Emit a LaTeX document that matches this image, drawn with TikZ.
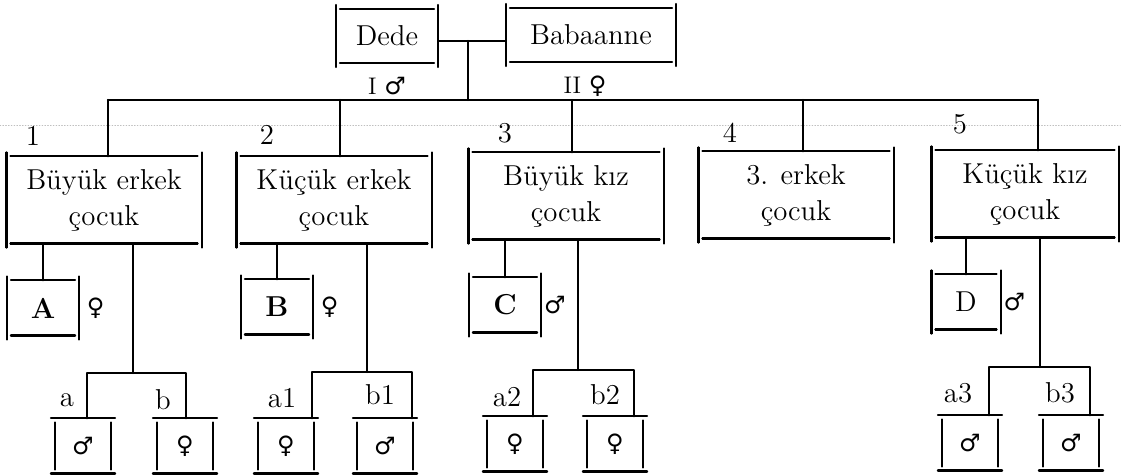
\documentclass[tikz,border=0pt]{standalone}
\usepackage{fontspec}
\newfontfamily\simge{DejaVu Sans}
\newcommand\erkek{{\simge ♂}}
\newcommand\kadin{{\simge ♀}}
% kutu: ust ve alt cizgi ayri, yan cizgiler biraz uzun
\newcommand\kutu[2][1]{%
  \draw ([xshift={2pt*(#1)}]#2.north west) -- ([xshift={-2pt*(#1)}]#2.north east);
  \draw ([xshift={2pt*(#1)}]#2.south west) -- ([xshift={-2pt*(#1)}]#2.south east);
  \draw ([yshift={2pt*(#1)}]#2.north west) -- ([yshift={-2pt*(#1)}]#2.south west);
  \draw ([yshift={2pt*(#1)}]#2.north east) -- ([yshift={-2pt*(#1)}]#2.south east);}
\begin{document}
\begin{tikzpicture}[x=0.5pt, y=-0.5pt, line width=1.1pt, line join=round, line cap=round,
  yazi/.style={font=\Large, inner sep=0pt},
  ebeveyn/.style={minimum width=50pt, minimum height=26pt, inner sep=0pt, font=\Large},
  cocuk/.style={minimum width=96.5pt, minimum height=42.5pt, inner sep=0pt, align=center, font=\Large},
  es/.style={minimum width=35pt, minimum height=26.5pt, inner sep=0pt, font=\Large},
  torun/.style={minimum width=27pt, minimum height=26.5pt, inner sep=0pt, font=\large}]
\useasboundingbox (0,0) rectangle (1121,475);

\draw[densely dotted, line width=0.4pt, gray!50] (0,125) -- (1121,125);

% dede ve babaanne
\node[ebeveyn, label={[font=\large, label distance=3pt]below:I \erkek}] (dede) at (387,36) {Dede};
\node[ebeveyn, minimum width=84pt, label={[font=\large, label distance=3pt, xshift=-3pt]below:II \kadin}] (baba) at (591,35) {Babaanne};

% cocuklar
\node[yazi] (n1) at (33,136) {1};
\node[yazi] (n2) at (267,135) {2};
\node[yazi] (n3) at (505,133) {3};
\node[yazi] (n4) at (730,133) {4};
\node[yazi] (n5) at (960,124) {5};

\node[cocuk] (k1) at (104,200) {Büyük erkek\\çocuk};
\node[cocuk] (k2) at (334,200) {Küçük erkek\\çocuk};
\node[cocuk] (k3) at (566,196) {Büyük kız\\çocuk};
\node[cocuk] (k4) at (796,195) {3. erkek\\çocuk};
\node[cocuk, minimum width=92.5pt] (k5) at (1025,194) {Küçük kız\\çocuk};

% esler
\node[es, font=\Large\bfseries, label={[font=\large]right:\kadin}] (A) at (43,308) {A};
\node[es, font=\Large\bfseries, label={[font=\large]right:\kadin}] (B) at (277,307) {B};
\node[es, font=\Large\bfseries, label={[font=\large, inner sep=1pt]right:\erkek}] (C) at (505,305) {C};
\node[es, minimum width=33.5pt, label={[font=\large, inner sep=1pt]right:\erkek}] (D) at (966,302) {D};

% torunlar
\node[yazi] (la) at (67,400) {a};
\node[yazi] (lb) at (163,400) {b};
\node[yazi] (la1) at (282,398) {a1};
\node[yazi] (lb1) at (380,395) {b1};
\node[yazi] (la2) at (507,397) {a2};
\node[yazi] (lb2) at (605,395) {b2};
\node[yazi] (la3) at (958,393) {a3};
\node[yazi] (lb3) at (1060,393) {b3};

\node[torun] (a) at (83,446) {\erkek};
\node[torun] (b) at (185,446) {\kadin};
\node[torun] (a1) at (286,446) {\kadin};
\node[torun] (b1) at (385,446) {\erkek};
\node[torun] (a2) at (515,444) {\kadin};
\node[torun] (b2) at (615,444) {\kadin};
\node[torun] (a3) at (970,443) {\erkek};
\node[torun] (b3) at (1071,443) {\erkek};

\foreach \n in {dede,baba,k1,k2,k3,k4,k5,A,B,C,D} \kutu{\n};
\foreach \n in {a,b,a1,b1,a2,b2,a3,b3} \kutu[-1]{\n};

% baglantilar
\coordinate (evl) at (468,41);
\coordinate (d1) at (108,100);
\coordinate (d2) at (340,100);
\coordinate (d3) at (572,100);
\coordinate (d4) at (803,100);
\coordinate (d5) at (1038,100);
\draw (evl -| dede.east) -- (evl -| baba.west);
\draw (evl) -- (evl |- d1);
\draw (d1) -- (d5);
\foreach \i in {1,...,5} \draw (d\i) -- (d\i |- k\i.north);

\draw (A.north) -- (A.north |- k1.south);
\draw (B.north) -- (B.north |- k2.south);
\draw (C.north) -- (C.north |- k3.south);
\draw (D.north) -- (D.north |- k5.south);

\coordinate (u1) at (133,373);
\coordinate (ya) at (87,373);
\coordinate (yb) at (186,373);
\coordinate (u2) at (367,372);
\coordinate (ya1) at (312,372);
\coordinate (yb1) at (412,372);
\coordinate (u3) at (578,370);
\coordinate (ya2) at (533,370);
\coordinate (yb2) at (634,370);
\coordinate (u5) at (1040,367);
\coordinate (ya3) at (989,367);
\coordinate (yb3) at (1090,367);

\draw (u1) -- (u1 |- k1.south);
\draw (ya |- a.north) -- (ya) -- (yb) -- (yb |- b.north);
\draw (u2) -- (u2 |- k2.south);
\draw (ya1 |- a1.north) -- (ya1) -- (yb1) -- (yb1 |- b1.north);
\draw (u3) -- (u3 |- k3.south);
\draw (ya2 |- a2.north) -- (ya2) -- (yb2) -- (yb2 |- b2.north);
\draw (u5) -- (u5 |- k5.south);
\draw (ya3 |- a3.north) -- (ya3) -- (yb3) -- (yb3 |- b3.north);
\end{tikzpicture}
\end{document}
